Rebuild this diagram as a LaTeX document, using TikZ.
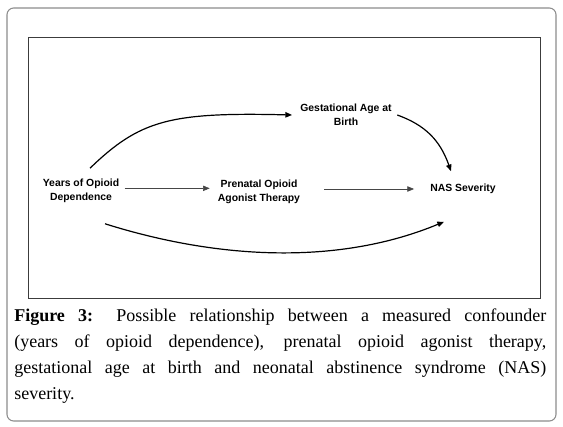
\documentclass[tikz,border=0pt]{standalone}
\usepackage{fontspec}
\setmainfont{Liberation Serif}
\newfontfamily\diagfont{Liberation Sans}
\usepackage{xcolor}
\usetikzlibrary{positioning, arrows.meta}
\definecolor{frameG}{RGB}{140,140,140}
\definecolor{boxG}{RGB}{ 60, 60, 60}
\definecolor{lineG}{RGB}{ 70, 70, 70}

\begin{document}
\begin{tikzpicture}[x=0.75pt, y=-0.75pt,
    lbl/.style={align=center, inner sep=2pt, font=\diagfont\fontsize{7.8}{10.5}\selectfont\bfseries},
    arr/.style={-{Triangle[length=5pt, width=4pt]}, line width=0.9pt},
    thinarr/.style={-{Triangle[length=5pt, width=4pt]}, line width=0.5pt, lineG}
  ]
  \useasboundingbox (0,0) rectangle (563,427);
  \draw[frameG, line width=0.8pt, rounded corners=5pt] (7,8) rectangle (556,421);
  \draw[boxG, line width=0.6pt] (28,37) rectangle (540,298);

  \node[lbl] (yrs)  at (81,191)  {Years of Opioid\\Dependence};
  \node[lbl] (poat) at (259,192) {Prenatal Opioid\\Agonist Therapy};
  \node[lbl] (gab)  at (346,115) {Gestational Age at\\Birth};
  \node[lbl] (nas)  at (463,189) {NAS Severity};

  \draw[thinarr, shorten <=2pt, shorten >=4pt] ([yshift=2pt]yrs.east) -- ([yshift=2pt]yrs.east -| poat.west);
  \draw[thinarr, shorten <=16pt, shorten >=10pt] (poat.east |- nas.west) -- (nas.west);
  \draw[arr] ([shift={(9,-8)}]yrs.north) .. controls (140,120) and (170,112) .. ([xshift=-4pt]gab.west);
  \draw[arr] ([xshift=2pt]gab.east) .. controls (425,125) and (440,140) .. ([shift={(-12,-10)}]nas.north);
  \draw[arr] ([shift={(24,18)}]yrs.south) .. controls (220,260) and (340,265) .. ([shift={(-19,25)}]nas.south);

  \node[anchor=north west, inner sep=0pt, text width=399pt, align=justify,
        font=\fontsize{13.5}{19.5}\selectfont] (cap) at (14,309)
       {\textbf{Figure 3:} Possible relationship between a measured confounder\linebreak
        (years of opioid dependence), prenatal opioid agonist therapy,\linebreak
        gestational age at birth and neonatal abstinence syndrome (NAS)\linebreak
        severity.};
\end{tikzpicture}
\end{document}
